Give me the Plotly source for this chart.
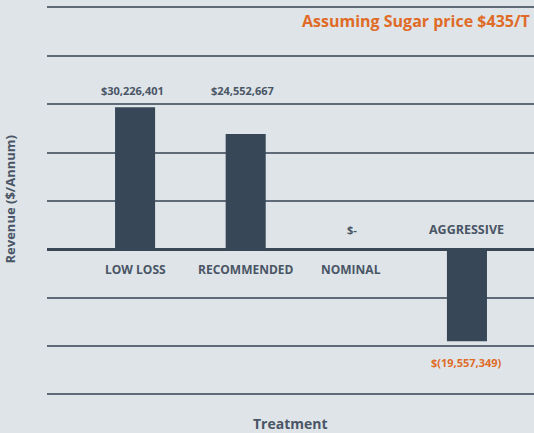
import plotly.graph_objects as go

categories = ["LOW LOSS", "RECOMMENDED", "NOMINAL", "AGGRESSIVE"]
revenue = [30226401, 24552667, 0, -19557349]
value_labels = ["$30,226,401", "$24,552,667", "$-", "$(19,557,349)"]

BG = "#dee4e8"
BAR = "#374757"
TXT = "#4a5565"
ORANGE = "#e06b27"
FONT = "Open Sans"

d = 10.3e6
fig = go.Figure()
fig.add_trace(go.Bar(x=categories, y=revenue, marker=dict(color=BAR, line=dict(width=0)),
                     width=0.362, hoverinfo="skip"))

ann = []
for c, v, lab in zip(categories, revenue, value_labels):
    if v > 0:
        ann.append(dict(x=c, y=3.0 * d, text=f"<b>{lab}</b>", yanchor="bottom", yshift=4,
                        font=dict(size=11, color=TXT, family=FONT), showarrow=False, xshift=-3))
        ann.append(dict(x=c, y=0, text=f"<b>{c}</b>", yanchor="top", yshift=-10,
                        font=dict(size=12, color=TXT, family=FONT), showarrow=False))
    elif v == 0:
        ann.append(dict(x=c, y=0, text=f"<b>{lab}</b>", yanchor="bottom", yshift=10,
                        font=dict(size=11, color=TXT, family=FONT), showarrow=False, xshift=-4))
        ann.append(dict(x=c, y=0, text=f"<b>{c}</b>", yanchor="top", yshift=-10,
                        font=dict(size=12, color=TXT, family=FONT), showarrow=False, xshift=-5))
    else:
        ann.append(dict(x=c, y=0, text=f"<b>{c}</b>", yanchor="bottom", yshift=9,
                        font=dict(size=12.5, color=TXT, family=FONT), showarrow=False))
        ann.append(dict(x=c, y=v, text=f"<b>{lab}</b>", yanchor="top", yshift=-12,
                        font=dict(size=11, color=ORANGE, family=FONT), showarrow=False))

ann.append(dict(xref="paper", yref="paper", x=0.996, y=0.948, xanchor="right", yanchor="middle",
                text="<b>Assuming Sugar price $435/T</b>", showarrow=False,
                font=dict(size=16, color=ORANGE, family=FONT)))
ann.append(dict(xref="paper", yref="paper", x=0.5, y=-0.058, xanchor="center", yanchor="middle",
                text="<b>Treatment</b>", showarrow=False,
                font=dict(size=14, color=TXT, family=FONT)))
ann.append(dict(xref="paper", yref="paper", x=-0.077, y=0.5, xanchor="center", yanchor="middle",
                text="<b>Revenue ($/Annum)</b>", showarrow=False, textangle=-90,
                font=dict(size=13, color=TXT, family=FONT)))

fig.update_layout(
    width=534, height=433,
    margin=dict(l=47, r=0, t=0, b=33),
    paper_bgcolor=BG, plot_bgcolor=BG,
    showlegend=False,
    annotations=ann,
    xaxis=dict(range=[-0.796, 3.606], showticklabels=False, showgrid=False, zeroline=False,
               showline=False, ticks=""),
    yaxis=dict(range=[-3.114 * d, 5.151 * d], tick0=0, dtick=d, showticklabels=False,
               showgrid=True, gridcolor="#5f6b78", gridwidth=1.5,
               zeroline=True, zerolinecolor="#3a4756", zerolinewidth=2.5,
               showline=False, ticks=""),
)

fig.write_html("out.html", config={"displayModeBar": False},
               post_script="document.body.style.margin='0';document.body.style.overflow='hidden';")
